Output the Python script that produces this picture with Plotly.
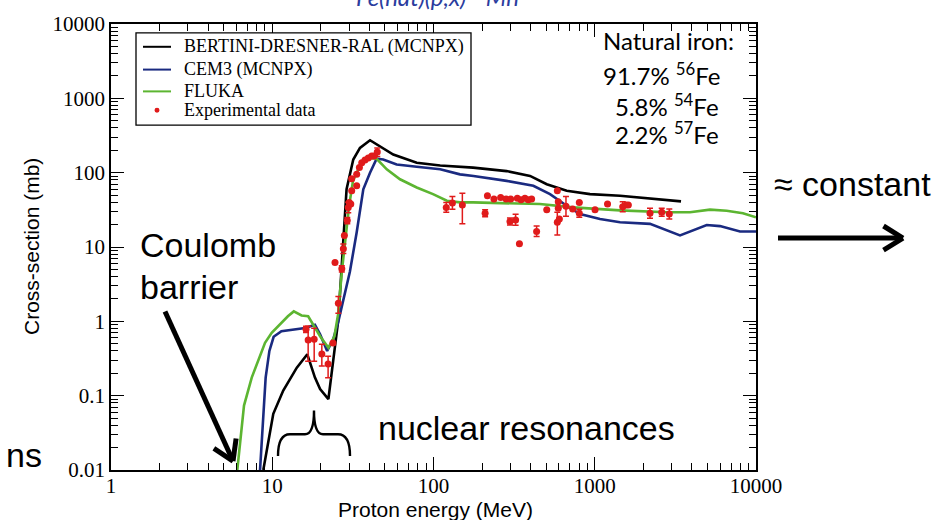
import math
import plotly.graph_objects as go

# ---------------- data (energy in MeV, cross-section in mb) ----------------
bertini_E = [8.8, 10.15, 11.7, 14.2, 16.5, 18.4, 19.8, 22.3, 25.7, 28.9, 31.8, 35.0, 40.4,
             46.6, 56.3, 78.7, 110, 176, 284, 397, 504, 670, 934, 1435, 3428]
bertini_xs = [0.01, 0.057, 0.117, 0.238, 0.36, 0.175, 0.123, 0.090, 1.06, 59.8, 150, 215, 273,
              227, 175, 136, 125, 117, 105, 90.3, 69.8, 57.0, 51.4, 48.9, 41.1]

cem3_E = [8.4, 9.1, 9.6, 10.2, 11.4, 13.2, 16.0, 18.4, 19.8, 21.9, 23.9, 25.7, 30.3, 33.4, 36.7,
          40.4, 44.4, 48.8, 59.1, 78.7, 110, 146, 177, 284, 416, 528, 670, 810, 1078, 1435,
          2201, 3379, 4947, 5980, 7960, 10000]
cem3_xs = [0.01, 0.175, 0.40, 0.62, 0.735, 0.775, 0.815, 0.90, 0.67, 0.40, 0.575, 1.0, 4.64, 15.8,
           59.8, 100, 154, 150, 129, 120, 111, 94.9, 90.3, 77.5, 66.5, 51.4, 35.9, 27.8, 23.8,
           21.5, 20.5, 14.3, 19.8, 19.1, 16.2, 16.2]

fluka_E = [6.07, 6.68, 7.46, 9.02, 9.92, 11.17, 12.5, 13.6, 15.2, 16.7, 19.8, 22.3, 24.3, 25.6,
           27.0, 28.9, 30.0, 31.7, 35.0, 38.5, 44.4, 51.3, 62.0, 78.7, 99.3, 121, 146, 176, 457,
           733, 1435, 2793, 3897, 5184, 6580, 8300, 10000]
fluka_xs = [0.01, 0.0736, 0.175, 0.514, 0.70, 0.91, 1.17, 1.36, 1.20, 1.17, 0.63, 0.44, 0.63, 1.24,
            4.64, 17.5, 36.3, 78.2, 124, 158, 154, 111, 81.5, 63.1, 51.4, 42.0, 39.8, 39.8, 37.8,
            34.1, 31.1, 29.3, 29.3, 31.8, 30.8, 28.4, 25.1]

exp_E = [16.2, 16.7, 18.2, 20.3, 22.2, 23.8, 25.7, 24.5, 27.0, 27.6, 28.0, 29.2, 29.6, 30.0, 30.7,
         31.1, 31.1, 33.4, 33.4, 34.7, 35.9, 37.6, 39.4, 41.4, 42.8, 44.8,
         120, 131, 151, 209, 216, 237, 261, 282, 301, 298, 323, 331, 341, 349, 369, 387, 406, 436,
         504, 586, 594, 594, 586, 603, 663, 730, 802, 802, 1004, 1200, 1491, 1562, 1615, 2201,
         2602, 2900]
exp_xs = [0.78, 0.56, 0.575, 0.363, 0.267, 0.51, 1.75, 6.2, 5.1, 9.5, 14.3, 22.7, 34.1, 39.8, 37.8,
          57, 83, 66.5, 94.9, 117, 136, 148, 158, 167, 167, 189,
          34.1, 39.0, 36.6, 28.4, 48.9, 44.1, 46.4, 44.1, 44.1, 22.0, 23.1, 45.4, 11.1, 43.3, 45.4,
          43.3, 44.1, 16.2, 31.8, 57.0, 40.6, 33.1, 21.5, 23.8, 35.2, 32.4, 39.8, 28.4, 31.8, 37.8,
          34.9, 36.6, 36.6, 28.4, 29.3, 27.8]
exp_hi = [0.86, 0.86, 0.81, 0.49, 0.34, 0.51, 2.15, 6.2, 5.6, 11.0, 14.3, 25.0, 40.0, 39.8, 37.8,
          57, 83, 66.5, 94.9, 117, 136, 148, 158, 167, 167, 215,
          39.8, 47.9, 53.0, 31.8, 48.9, 44.1, 46.4, 44.1, 44.1, 24.5, 27.5, 45.4, 11.1, 43.3, 45.4,
          43.3, 44.1, 19.1, 31.8, 57.0, 40.6, 33.1, 29.3, 23.8, 47.9, 32.4, 39.8, 32.1, 31.8, 37.8,
          40.6, 36.6, 36.6, 33.1, 33.1, 32.4]
exp_lo = [0.71, 0.29, 0.29, 0.25, 0.174, 0.51, 1.28, 6.2, 4.6, 8.2, 14.3, 20.5, 29.0, 39.8, 37.8,
          57, 83, 66.5, 94.9, 117, 136, 148, 158, 167, 167, 165,
          29.3, 32.1, 20.5, 25.5, 48.9, 44.1, 46.4, 44.1, 44.1, 19.8, 19.6, 45.4, 11.1, 43.3, 45.4,
          43.3, 44.1, 13.8, 31.8, 57.0, 40.6, 33.1, 14.5, 23.8, 25.9, 32.4, 39.8, 25.1, 31.8, 37.8,
          29.9, 36.6, 36.6, 24.4, 25.9, 23.8]

series_names = ["BERTINI-DRESNER-RAL (MCNPX)", "CEM3 (MCNPX)", "FLUKA", "Experimental data"]
series_colors = ["#000000", "#1a2a80", "#5cb531", "#e01b1b"]

y_tickvals = [0.01, 0.1, 1, 10, 100, 1000, 10000]
y_ticktext = ["0.01", "0.1", "1", "10", "100", "1000", "10000"]
x_tickvals = [1, 10, 100, 1000, 10000]
x_ticktext = ["1", "10", "100", "1000", "10000"]

# ---------------- layout geometry (pixels) ----------------
W, H = 942, 520
L, R, T, B = 111, 756, 20, 470


def px(x):
    return (x - L) / (R - L)


def py(y):
    return (B - y) / (B - T)


err_plus = [h - v for h, v in zip(exp_hi, exp_xs)]
err_minus = [v - l for l, v in zip(exp_lo, exp_xs)]

fig = go.Figure()
for E, xs, name, col in [(bertini_E, bertini_xs, series_names[0], series_colors[0]),
                         (cem3_E, cem3_xs, series_names[1], series_colors[1]),
                         (fluka_E, fluka_xs, series_names[2], series_colors[2])]:
    fig.add_trace(go.Scatter(x=E, y=xs, mode="lines", name=name, showlegend=False,
                             line=dict(color=col, width=2.6)))
fig.add_trace(go.Scatter(x=exp_E, y=exp_xs, mode="markers", name=series_names[3], showlegend=False,
                         marker=dict(color=series_colors[3], size=7),
                         error_y=dict(type="data", array=err_plus, arrayminus=err_minus,
                                      color=series_colors[3], thickness=1.5, width=3)))

minor_vals = [m * 10 ** d for d in range(-2, 4) for m in range(2, 10)]
minor_x = [m * 10 ** d for d in range(0, 4) for m in range(2, 10)]

axis_common = dict(showline=True, linecolor="black", linewidth=1.5, mirror="ticks",
                   ticks="inside", ticklen=13, tickwidth=1.3, tickcolor="black",
                   showgrid=False, zeroline=False,
                   tickfont=dict(family="Liberation Serif", size=21, color="black"))

fig.update_xaxes(type="log", range=[0, 4], tickmode="array", tickvals=x_tickvals, ticktext=x_ticktext,
                 ticklabelstandoff=-4,
                 minor=dict(ticks="inside", ticklen=7, tickcolor="black", tickwidth=1,
                            tickvals=minor_x, showgrid=False),
                 **axis_common)
fig.update_yaxes(type="log", range=[-2, 4], tickmode="array", tickvals=y_tickvals, ticktext=y_ticktext,
                 minor=dict(ticks="inside", ticklen=7, tickcolor="black", tickwidth=1,
                            tickvals=minor_vals, showgrid=False),
                 **axis_common)

annotations = []


def text(t, x, y, size, family="Liberation Sans", xanchor="left", color="black", angle=0, style="normal"):
    annotations.append(dict(text=t, x=px(x), y=py(y), xref="paper", yref="paper", showarrow=False,
                            xanchor=xanchor, yanchor="middle", textangle=angle,
                            font=dict(family=family, size=size, color=color, style=style)))


text("Cross-section (mb)", 31, 245, 21, xanchor="center", angle=-90)
text("Proton energy (MeV)", 435, 510, 21, xanchor="center")
text("Coulomb", 138, 243, 34)
text("barrier", 138, 285, 34)
text("nuclear resonances", 376, 428, 34)
text("ns", 4, 455, 34)
text("≈ constant", 772, 181, 34)
text("Natural iron:", 601, 37, 24, family="Lato")
text("91.7% <sup>56</sup>Fe", 601, 70, 24, family="Lato")
text("5.8% <sup>54</sup>Fe", 613, 102, 24, family="Lato")
text("2.2% <sup>57</sup>Fe", 613, 130, 24, family="Lato")
text("Fe(nat)(p,x)<sup>54</sup>Mn", 437, -9, 24, family="Lato", xanchor="center", color="#2b3c9e",
     style="italic")

shapes = []

# ---- legend box (drawn by hand to match the original layout) ----
shapes.append(dict(type="rect", xref="paper", yref="paper", x0=px(136), x1=px(471), y0=py(29), y1=py(122),
                   fillcolor="white", line=dict(color="black", width=1.3), layer="above"))
legend_rows = [43, 66, 88, 107]
for i, (name, col) in enumerate(zip(series_names, series_colors)):
    yy = legend_rows[i]
    if i < 3:
        shapes.append(dict(type="line", xref="paper", yref="paper", x0=px(143), x1=px(171),
                           y0=py(yy), y1=py(yy), line=dict(color=col, width=2), layer="above"))
    else:
        shapes.append(dict(type="circle", xref="paper", yref="paper", x0=px(154.5), x1=px(159.5),
                           y0=py(yy + 2.5), y1=py(yy - 2.5), fillcolor=col, line=dict(color=col, width=0),
                           layer="above"))
    annotations.append(dict(text=name, x=px(182), y=py(yy), xref="paper", yref="paper", showarrow=False,
                            xanchor="left", yanchor="middle",
                            font=dict(family="Liberation Serif", size=18, color="black")))


def seg(x0, y0, x1, y1, w=5):
    shapes.append(dict(type="line", xref="paper", yref="paper", x0=px(x0), y0=py(y0), x1=px(x1), y1=py(y1),
                       line=dict(color="black", width=w)))


def arrow(x0, y0, x1, y1, w=5, head=23):
    seg(x0, y0, x1, y1, w)
    d = math.hypot(x1 - x0, y1 - y0)
    ux, uy = (x0 - x1) / d, (y0 - y1) / d
    for a in (math.radians(32), -math.radians(32)):
        rx = ux * math.cos(a) - uy * math.sin(a)
        ry = ux * math.sin(a) + uy * math.cos(a)
        seg(x1, y1, x1 + rx * head, y1 + ry * head, w)


arrow(165, 310, 233, 461)
arrow(778, 236, 903, 236)

# curly brace under "nuclear resonances"
pts = "M {a},{b} Q {a},{c} {d},{c} L {e},{c} Q {f},{c} {f},{g} Q {f},{c} {h},{c} L {i},{c} Q {j},{c} {j},{b}"
brace = pts.format(a=px(278), b=py(456), c=py(434), d=px(290), e=px(305), f=px(314), g=py(410),
                   h=px(323), i=px(338), j=px(350))
shapes.append(dict(type="path", xref="paper", yref="paper", path=brace, line=dict(color="black", width=2.4)))

fig.update_layout(
    width=W, height=H, autosize=False,
    margin=dict(l=L, r=W - R, t=T, b=H - B, pad=0),
    paper_bgcolor="white", plot_bgcolor="white",
    showlegend=False,
    annotations=annotations, shapes=shapes,
)

fig.write_html("out.html")
